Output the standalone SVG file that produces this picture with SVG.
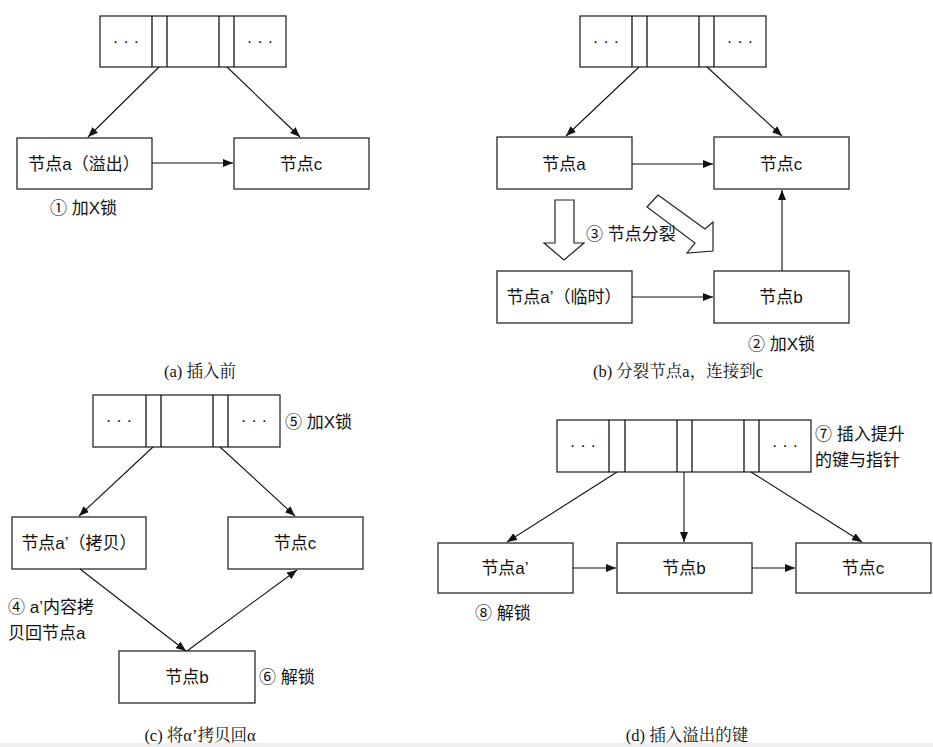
<svg xmlns="http://www.w3.org/2000/svg" width="933" height="747" viewBox="0 0 933 747">
<style>
.bx{fill:#fff;stroke:#2a2a2a;stroke-width:1.3}
.ln{stroke:#111;stroke-width:1.3}
.t{font-family:"Liberation Sans","Noto Sans CJK SC",sans-serif;font-size:17px;fill:#111;text-spacing-trim:space-all}
.c{text-anchor:middle}
.fw{font-family:"Noto Sans CJK SC",sans-serif}
.cap{font-family:"Liberation Serif","Noto Serif CJK SC","Noto Sans CJK SC",serif;font-size:16.5px;fill:#111;text-anchor:middle}
.cn{stroke:#111;stroke-width:1.1;fill:none}
.ha{fill:#fff;stroke:#222;stroke-width:1.2}
</style>
<defs>
<marker id="ah" viewBox="0 0 10 8" refX="10" refY="4" markerWidth="10" markerHeight="8" markerUnits="userSpaceOnUse" orient="auto">
<path d="M0,0 L10,4 L0,8 Z" fill="#111"/>
</marker>
</defs>
<rect x="0" y="0" width="933" height="747" fill="#fff"/>
<rect x="0" y="743" width="933" height="4" fill="#efefef"/>

<!-- Panel a -->
<g id="a-parent">
<rect class="bx" x="100" y="16" width="186" height="51"/>
<line class="ln" x1="152" y1="16" x2="152" y2="67"/><line class="ln" x1="167" y1="16" x2="167" y2="67"/>
<line class="ln" x1="219" y1="16" x2="219" y2="67"/><line class="ln" x1="234" y1="16" x2="234" y2="67"/>
<text class="t c" x="126" y="47">· · ·</text><text class="t c" x="260" y="47">· · ·</text>
</g>
<g id="a-node-a"><rect class="bx" x="17" y="138" width="135" height="51"/><text class="t c" x="84" y="170">节点a<tspan class="fw">（</tspan>溢出<tspan class="fw">）</tspan></text></g>
<g id="a-node-c"><rect class="bx" x="234" y="138" width="135" height="51"/><text class="t c" x="301" y="170">节点c</text></g>
<text class="t" x="50" y="214">① 加X锁</text>
<text class="cap" x="200" y="377">(a) 插入前</text>

<!-- Panel b -->
<g id="b-parent">
<rect class="bx" x="580" y="16" width="186" height="51"/>
<line class="ln" x1="632" y1="16" x2="632" y2="67"/><line class="ln" x1="647" y1="16" x2="647" y2="67"/>
<line class="ln" x1="699" y1="16" x2="699" y2="67"/><line class="ln" x1="714" y1="16" x2="714" y2="67"/>
<text class="t c" x="606" y="47">· · ·</text><text class="t c" x="740" y="47">· · ·</text>
</g>
<g id="b-node-a"><rect class="bx" x="497" y="137" width="135" height="52"/><text class="t c" x="564" y="170">节点a</text></g>
<g id="b-node-c"><rect class="bx" x="714" y="137" width="135" height="52"/><text class="t c" x="781" y="170">节点c</text></g>
<g id="b-node-a2"><rect class="bx" x="497" y="271" width="135" height="52"/><text class="t c" x="564" y="303">节点a’<tspan class="fw">（</tspan>临时<tspan class="fw">）</tspan></text></g>
<g id="b-node-b"><rect class="bx" x="714" y="271" width="135" height="52"/><text class="t c" x="781" y="303">节点b</text></g>
<g id="b-split-arrows">
<polygon class="ha" points="555,200 574,200 574,243 584,243 564,260 544,243 555,243"/>
<polygon class="ha" points="658,195 705,229 713,222 713,251 687,253 695,243 647,207"/>
</g>
<text class="t" x="586" y="240">③ 节点分裂</text>
<text class="t" x="748" y="350">② 加X锁</text>
<text class="cap" x="678" y="377">(b) 分裂节点a，连接到c</text>

<!-- Panel c -->
<g id="c-parent">
<rect class="bx" x="93" y="395" width="187" height="52"/>
<line class="ln" x1="146" y1="395" x2="146" y2="447"/><line class="ln" x1="161" y1="395" x2="161" y2="447"/>
<line class="ln" x1="213" y1="395" x2="213" y2="447"/><line class="ln" x1="228" y1="395" x2="228" y2="447"/>
<text class="t c" x="119" y="426">· · ·</text><text class="t c" x="254" y="426">· · ·</text>
</g>
<g id="c-node-a2"><rect class="bx" x="12" y="517" width="134" height="52"/><text class="t c" x="79" y="549">节点a’<tspan class="fw">（</tspan>拷贝<tspan class="fw">）</tspan></text></g>
<g id="c-node-c"><rect class="bx" x="228" y="517" width="135" height="52"/><text class="t c" x="295" y="549">节点c</text></g>
<g id="c-node-b"><rect class="bx" x="119" y="651" width="136" height="52"/><text class="t c" x="187" y="683">节点b</text></g>
<text class="t" x="285" y="428">⑤ 加X锁</text>
<text class="t" x="8" y="613">④ a’内容拷</text>
<text class="t" x="8" y="639">贝回节点a</text>
<text class="t" x="259" y="683">⑥ 解锁</text>
<text class="cap" x="200" y="741">(c) 将α’拷贝回α</text>

<!-- Panel d -->
<g id="d-parent">
<rect class="bx" x="557" y="420" width="254" height="52"/>
<line class="ln" x1="609" y1="420" x2="609" y2="472"/><line class="ln" x1="625" y1="420" x2="625" y2="472"/>
<line class="ln" x1="677" y1="420" x2="677" y2="472"/><line class="ln" x1="692" y1="420" x2="692" y2="472"/>
<line class="ln" x1="744" y1="420" x2="744" y2="472"/><line class="ln" x1="759" y1="420" x2="759" y2="472"/>
<text class="t c" x="583" y="451">· · ·</text><text class="t c" x="785" y="451">· · ·</text>
</g>
<g id="d-node-a2"><rect class="bx" x="438" y="543" width="135" height="50"/><text class="t c" x="505" y="574">节点a’</text></g>
<g id="d-node-b"><rect class="bx" x="617" y="543" width="135" height="50"/><text class="t c" x="684" y="574">节点b</text></g>
<g id="d-node-c"><rect class="bx" x="796" y="543" width="135" height="50"/><text class="t c" x="863" y="574">节点c</text></g>
<text class="t" x="815" y="440">⑦ 插入提升</text>
<text class="t" x="815" y="466">的键与指针</text>
<text class="t" x="475" y="619">⑧ 解锁</text>
<text class="cap" x="687" y="741">(d) 插入溢出的键</text>

<g id="connectors">
<line class="cn" x1="159" y1="67" x2="88" y2="137" marker-end="url(#ah)"/>
<line class="cn" x1="227" y1="67" x2="300" y2="137" marker-end="url(#ah)"/>
<line class="cn" x1="152" y1="163" x2="233" y2="163" marker-end="url(#ah)"/>

<line class="cn" x1="639" y1="67" x2="566" y2="136" marker-end="url(#ah)"/>
<line class="cn" x1="707" y1="67" x2="782" y2="136" marker-end="url(#ah)"/>
<line class="cn" x1="632" y1="164" x2="713" y2="164" marker-end="url(#ah)"/>
<line class="cn" x1="632" y1="297" x2="713" y2="297" marker-end="url(#ah)"/>
<line class="cn" x1="782" y1="271" x2="782" y2="190" marker-end="url(#ah)"/>

<line class="cn" x1="153" y1="447" x2="79" y2="516" marker-end="url(#ah)"/>
<line class="cn" x1="220" y1="447" x2="295" y2="516" marker-end="url(#ah)"/>
<line class="cn" x1="80" y1="569" x2="186" y2="651" marker-end="url(#ah)"/>
<line class="cn" x1="187" y1="651" x2="297" y2="570" marker-end="url(#ah)"/>

<line class="cn" x1="617" y1="472" x2="507" y2="542" marker-end="url(#ah)"/>
<line class="cn" x1="684" y1="472" x2="684" y2="542" marker-end="url(#ah)"/>
<line class="cn" x1="751" y1="472" x2="862" y2="542" marker-end="url(#ah)"/>
<line class="cn" x1="573" y1="568" x2="616" y2="568" marker-end="url(#ah)"/>
<line class="cn" x1="752" y1="568" x2="795" y2="568" marker-end="url(#ah)"/>
</g>
</svg>
